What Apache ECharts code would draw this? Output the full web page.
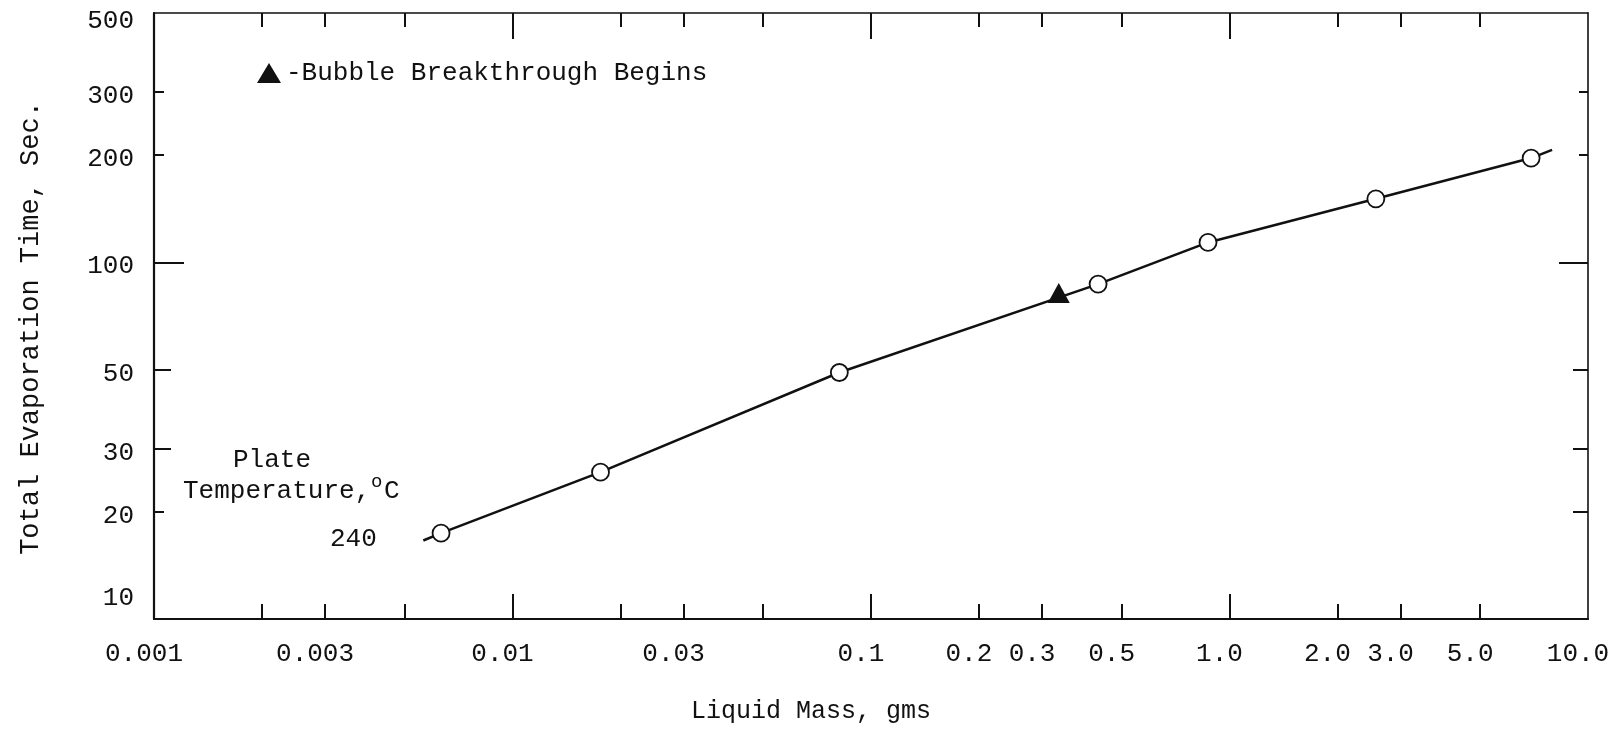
<!DOCTYPE html>
<html>
<head>
<meta charset="utf-8">
<title>Total Evaporation Time vs Liquid Mass</title>
<script src="https://cdn.jsdelivr.net/npm/echarts@6/dist/echarts.min.js"></script>
<style>
  html, body { margin: 0; padding: 0; background: #ffffff; }
  #chart { width: 1619px; height: 736px; }
</style>
</head>
<body>
<div id="chart"></div>
<script>
// Measured evaporation times, plate temperature 240 °C
const massPoints = [0.00632, 0.0176, 0.0816, 0.430, 0.871, 2.56, 6.94];   // gms
const timePoints = [17.4, 25.8, 49.1, 86.9, 113.7, 150.7, 196];           // sec

// Faired curve through the measurements, carried a little past both ends
const curveMass = [0.00564, 0.00632, 0.0176, 0.0816, 0.430, 0.871, 2.56, 6.94, 7.94];
const curveTime = [16.6, 17.4, 25.8, 49.1, 86.9, 113.7, 150.7, 196, 206.6];

// Onset of bubble breakthrough
const breakMass = [0.334];
const breakTime = [82];

// Axis ticks and labels
const xLabelValues = [0.001, 0.003, 0.01, 0.03, 0.1, 0.2, 0.3, 0.5, 1, 2, 3, 5, 10];
const xLabelTexts = ['0.001', '0.003', '0.01', '0.03', '0.1', '0.2', '0.3', '0.5', '1.0', '2.0', '3.0', '5.0', '10.0'];
const xMajorTicks = [0.01, 0.1, 1];
const xMinorTicks = [0.002, 0.003, 0.005, 0.02, 0.03, 0.05, 0.2, 0.3, 0.5, 2, 3, 5];
const yLabelValues = [10, 20, 30, 50, 100, 200, 300, 500];
const yLeftShortTicks = [20, 200, 300];
const yLeftMidTicks = [30, 50];
const yRightShortTicks = [200, 300];
const yRightMidTicks = [20, 30, 50];
const yLongTicks = [100];

const FONT = '"Liberation Mono", "DejaVu Sans Mono", monospace';
const INK = '#111111';
const TXT = 26;

const xLabelText = function (v) {
  const i = xLabelValues.findIndex(t => Math.abs(Math.log10(t) - Math.log10(v)) < 1e-6);
  return i >= 0 ? xLabelTexts[i] : '';
};

// typed labels sit a little below their ticks; the end labels are set inside the frame
const yLabelText = function (v) {
  const s = String(Math.round(v));
  if (v >= 499) return '{top|' + s + '}';
  if (v <= 10.01) return '{bot|' + s + '}';
  return '{mid|' + s + '}';
};

function logAxis(extra) {
  const base = {
    type: 'log',
    logBase: 10,
    axisLine: { show: false, onZero: false },
    axisTick: { show: false },
    axisLabel: { show: false },
    splitLine: { show: false },
    minorTick: { show: false },
    minorSplitLine: { show: false }
  };
  return Object.assign(base, extra);
}

function tickSet(values, len, width) {
  return { show: true, inside: true, length: len, customValues: values,
           lineStyle: { color: INK, width: width || 2 } };
}

const xRange = { min: 0.001, max: 10 };
const yRange = { min: 10, max: 500 };

const labelRich = {
  mid: { fontFamily: FONT, fontSize: TXT, color: INK, padding: [8, 0, 0, 0] },
  top: { fontFamily: FONT, fontSize: TXT, color: INK, padding: [16, 0, 0, 0] },
  bot: { fontFamily: FONT, fontSize: TXT, color: INK, padding: [0, 0, 42, 0] }
};

const xAxes = [
  logAxis(Object.assign({}, xRange, {
    position: 'bottom',
    axisLine: { show: true, onZero: false, lineStyle: { color: INK, width: 2.2 } },
    axisTick: tickSet(xMajorTicks, 25),
    axisLabel: {
      show: true, customValues: xLabelValues, formatter: xLabelText,
      margin: 22, color: INK, fontFamily: FONT, fontSize: TXT,
      padding: [0, 20, 0, 0]
    },
    name: 'Liquid Mass, gms',
    nameLocation: 'middle',
    nameGap: 80,
    nameTextStyle: { color: INK, fontFamily: FONT, fontSize: 25, padding: [0, 120, 0, 0] }
  })),
  logAxis(Object.assign({}, xRange, { position: 'bottom', axisTick: tickSet(xMinorTicks, 15) })),
  logAxis(Object.assign({}, xRange, {
    position: 'top',
    axisLine: { show: true, onZero: false, lineStyle: { color: INK, width: 1.6 } },
    axisTick: tickSet(xMajorTicks, 26)
  })),
  logAxis(Object.assign({}, xRange, { position: 'top', axisTick: tickSet(xMinorTicks, 14) }))
];

const yAxes = [
  logAxis(Object.assign({}, yRange, {
    position: 'left',
    axisLine: { show: true, onZero: false, lineStyle: { color: INK, width: 2.2 } },
    axisTick: tickSet(yLeftShortTicks, 10),
    axisLabel: {
      show: true, customValues: yLabelValues, formatter: yLabelText,
      margin: 20, color: INK, fontFamily: FONT, fontSize: TXT,
      rich: labelRich
    },
    name: 'Total Evaporation Time, Sec.',
    nameLocation: 'middle',
    nameGap: 110,
    nameTextStyle: { color: INK, fontFamily: FONT, fontSize: 27, padding: [0, 24, 0, 0] }
  })),
  logAxis(Object.assign({}, yRange, { position: 'left', axisTick: tickSet(yLeftMidTicks, 17) })),
  logAxis(Object.assign({}, yRange, { position: 'left', axisTick: tickSet(yLongTicks, 30) })),
  logAxis(Object.assign({}, yRange, {
    position: 'right',
    axisLine: { show: true, onZero: false, lineStyle: { color: INK, width: 1.6 } },
    axisTick: tickSet(yRightShortTicks, 9)
  })),
  logAxis(Object.assign({}, yRange, { position: 'right', axisTick: tickSet(yRightMidTicks, 15) })),
  logAxis(Object.assign({}, yRange, { position: 'right', axisTick: tickSet(yLongTicks, 29) }))
];

const chart = echarts.init(document.getElementById('chart'), null, { renderer: 'canvas' });

chart.setOption({
  backgroundColor: '#ffffff',
  animation: false,
  grid: { left: 154, right: 31, top: 13, bottom: 117, outerBoundsMode: 'none' },
  xAxis: xAxes,
  yAxis: yAxes,
  legend: {
    left: 252, top: 55,
    itemWidth: 24, itemHeight: 20,
    selectedMode: false,
    data: [{ name: 'Bubble Breakthrough Begins', icon: 'triangle' }],
    formatter: '-{name}',
    textStyle: { color: INK, fontFamily: FONT, fontSize: TXT }
  },
  graphic: [
    { type: 'text', x: 233, y: 460, style: { text: 'Plate', fill: INK, font: TXT + 'px ' + FONT, verticalAlign: 'middle', textVerticalAlign: 'middle' } },
    { type: 'text', x: 183, y: 491, style: { text: 'Temperature,', fill: INK, font: TXT + 'px ' + FONT, verticalAlign: 'middle', textVerticalAlign: 'middle' } },
    { type: 'text', x: 371, y: 482, style: { text: 'o', fill: INK, font: '19px ' + FONT, verticalAlign: 'middle', textVerticalAlign: 'middle' } },
    { type: 'text', x: 384, y: 491, style: { text: 'C', fill: INK, font: TXT + 'px ' + FONT, verticalAlign: 'middle', textVerticalAlign: 'middle' } },
    { type: 'text', x: 330, y: 539, style: { text: '240', fill: INK, font: TXT + 'px ' + FONT, verticalAlign: 'middle', textVerticalAlign: 'middle' } }
  ],
  series: [
    {
      name: 'curve',
      type: 'line',
      xAxisIndex: 0, yAxisIndex: 0,
      data: curveMass.map((m, i) => [m, curveTime[i]]),
      showSymbol: false,
      smooth: false,
      silent: true,
      lineStyle: { color: INK, width: 2.5 },
      z: 2
    },
    {
      name: 'measured',
      type: 'scatter',
      xAxisIndex: 0, yAxisIndex: 0,
      data: massPoints.map((m, i) => [m, timePoints[i]]),
      symbol: 'circle',
      symbolSize: 17,
      itemStyle: { color: '#ffffff', borderColor: INK, borderWidth: 1.8, opacity: 1 },
      z: 3
    },
    {
      name: 'Bubble Breakthrough Begins',
      type: 'scatter',
      xAxisIndex: 0, yAxisIndex: 0,
      data: breakMass.map((m, i) => [m, breakTime[i]]),
      symbol: 'triangle',
      symbolSize: [22, 20],
      itemStyle: { color: INK, opacity: 1 },
      z: 4
    }
  ]
});
</script>
</body>
</html>
